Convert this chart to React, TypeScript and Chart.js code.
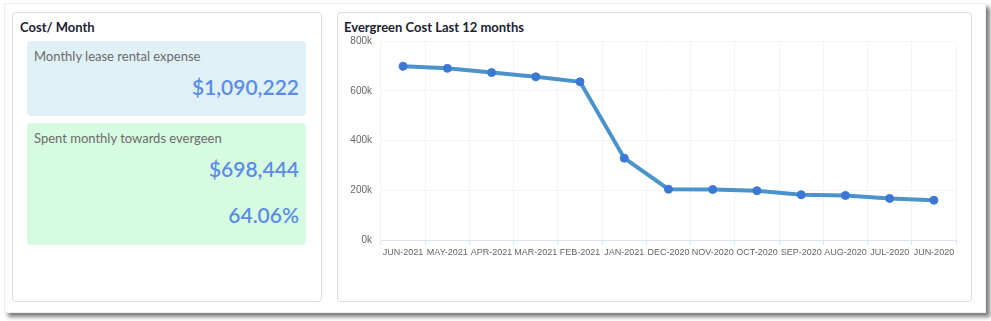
import React, { useEffect, useRef } from "react";
import { Chart, registerables } from "chart.js";

Chart.register(...registerables);

const months = [
  "JUN-2021", "MAY-2021", "APR-2021", "MAR-2021", "FEB-2021", "JAN-2021",
  "DEC-2020", "NOV-2020", "OCT-2020", "SEP-2020", "AUG-2020", "JUL-2020", "JUN-2020",
];
const evergreenCost = [
  698444, 690000, 673000, 656000, 636000, 329000,
  204000, 203000, 198000, 182000, 179000, 167000, 160000,
];
const yTicks = [0, 200000, 400000, 600000, 800000];

const leaseLabel = "Monthly lease rental expense";
const leaseValue = "$1,090,222";
const spentLabel = "Spent monthly towards evergeen";
const spentValue = "$698,444";
const spentPct = "64.06%";

function LineChart() {
  const ref = useRef<HTMLCanvasElement | null>(null);
  useEffect(() => {
    if (!ref.current) return;
    const chart = new Chart(ref.current, {
      type: "line",
      data: {
        labels: months,
        datasets: [
          {
            data: evergreenCost,
            borderColor: "#4a93cb",
            borderWidth: 4,
            pointBackgroundColor: "#3b78d6",
            pointBorderColor: "#3b78d6",
            pointRadius: 4,
            pointBorderWidth: 1,
            tension: 0,
            fill: false,
          },
        ],
      },
      options: {
        animation: false,
        responsive: false,
        maintainAspectRatio: false,
        layout: { padding: { top: 6, right: 8, left: 0, bottom: 0 } },
        plugins: { legend: { display: false }, tooltip: { enabled: false } },
        scales: {
          x: {
            offset: true,
            grid: {
              color: "#f3f4f6",
              tickColor: "#dbe4ee",
              tickLength: 5,
              offset: true,
            },
            border: { color: "#dbe4ee", width: 1 },
            ticks: {
              color: "#666",
              font: { family: "Liberation Sans, Arial", size: 9 },
              maxRotation: 0,
              autoSkip: false,
              padding: 2,
            },
            afterFit: (s: any) => { s.height = 46; },
          },
          y: {
            min: 0,
            max: 800000,
            afterBuildTicks: (s: any) => { s.ticks = yTicks.map((v) => ({ value: v })); },
            grid: { color: "#f3f4f6", drawTicks: false },
            border: { display: false },
            ticks: {
              color: "#666",
              font: { family: "Liberation Sans, Arial", size: 10 },
              padding: 9,
              callback: (v: any) => `${Number(v) / 1000}k`,
            },
            afterFit: (s: any) => { s.width = 41; },
          },
        },
      },
    });
    return () => chart.destroy();
  }, []);
  return <canvas ref={ref} width={624} height={260} style={{ position: "absolute", left: 340, top: 26 }} />;
}

export default function App() {
  const font = "Lato, 'Noto Sans', sans-serif";
  const box = (top: number, height: number, bg: string): React.CSSProperties => ({
    position: "absolute", left: 27, top, width: 279, height, background: bg, borderRadius: 4,
  });
  const valueStyle = (top: number): React.CSSProperties => ({
    position: "absolute", top, fontSize: 21, fontWeight: 600, color: "#5b8ce6", fontFamily: font,
    lineHeight: "30px", right: 991 - 299,
  });
  const labelStyle = (top: number): React.CSSProperties => ({
    position: "absolute", left: 34, top, fontSize: 13, color: "#6b6b6b", fontFamily: font, lineHeight: "16px",
  });
  return (
    <div style={{ position: "fixed", left: 0, top: 0, width: 991, height: 321, background: "#fff", overflow: "hidden" }}>
      <div style={{
        position: "absolute", left: 4, top: 3, width: 980, height: 308, background: "#fff",
        border: "1px solid #eee", boxShadow: "4px 4px 4px rgba(0,0,0,0.5)",
      }} />
      <div style={{
        position: "absolute", left: 12, top: 12, width: 308, height: 288, border: "1px solid #dcdcdc",
        borderRadius: 4, background: "#fff",
      }} />
      <div style={{ position: "absolute", left: 20, top: 19, fontSize: 13, fontWeight: 700, color: "#1b2233", fontFamily: font }}>
        Cost/ Month
      </div>
      <div style={box(41, 75, "#dff0f6")} />
      <div style={labelStyle(48)}>{leaseLabel}</div>
      <div style={valueStyle(72)}>{leaseValue}</div>
      <div style={box(123, 122, "#d6fbe1")} />
      <div style={labelStyle(130)}>{spentLabel}</div>
      <div style={valueStyle(154)}>{spentValue}</div>
      <div style={valueStyle(200)}>{spentPct}</div>
      <div style={{
        position: "absolute", left: 337, top: 12, width: 633, height: 288, border: "1px solid #dcdcdc",
        borderRadius: 4, background: "#fff",
      }} />
      <div style={{ position: "absolute", left: 344, top: 19, fontSize: 13, fontWeight: 700, color: "#1b2233", fontFamily: font }}>
        Evergreen Cost Last 12 months
      </div>
      <LineChart />
    </div>
  );
}
